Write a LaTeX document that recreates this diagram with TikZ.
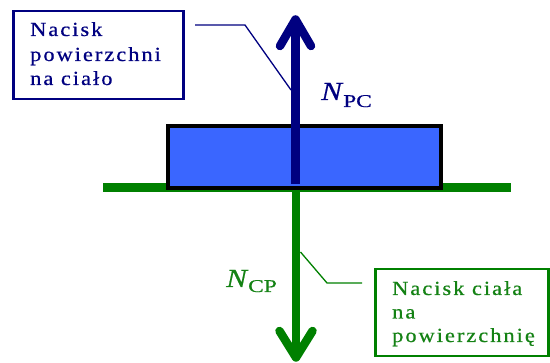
\documentclass[tikz,border=0pt]{standalone}
\usepackage{fontspec}
\setmainfont{Liberation Serif}
\newfontfamily\spacedfont[LetterSpace=10, FakeStretch=1.12, FakeBold=0.6]{Liberation Serif}
\newfontfamily\labelfont[FakeStretch=1.2, FakeBold=0.5]{Liberation Serif}
\newfontfamily\subfont[FakeStretch=1.3, FakeBold=0.5]{Liberation Serif}
\definecolor{navyc}{RGB}{0,0,128}
\definecolor{greenc}{RGB}{0,128,0}
\definecolor{textgreen}{RGB}{20,130,20}
\definecolor{bodyblue}{RGB}{58,102,255}
\tikzset{
  navybox/.style={draw=navyc, line width=2.5pt, fill=white, inner sep=0pt},
  greenbox/.style={draw=greenc, line width=2.5pt, fill=white, inner sep=0pt},
  boxtext/.style={anchor=base west, inner sep=0pt, font=\spacedfont\fontsize{20pt}{24pt}\selectfont},
  forcearrow/.style={line width=8.5pt, line cap=round, line join=round},
  leader/.style={line width=1.3pt},
  bigN/.style={anchor=base west, inner sep=0pt, font=\labelfont\fontsize{26pt}{26pt}\selectfont\itshape},
  subtext/.style={anchor=base west, inner sep=0pt, font=\subfont\fontsize{18pt}{18pt}\selectfont},
}
\begin{document}
\begin{tikzpicture}[x=1pt,y=-1pt]
\useasboundingbox (0,0) rectangle (550,363);
% ground
\coordinate (gL) at (103,187.5);
\coordinate (gR) at (511,187.5);
\draw[greenc, line width=9.5pt] (gL) -- (gR);
% body
\node[draw=black, fill=bodyblue, line width=4pt, inner sep=0pt, minimum width=273pt, minimum height=62pt, anchor=north west] (body) at (166,124) {};
% navy arrow (surface on body)
\coordinate (pcTail) at (295.5,184);
\coordinate (pcTip) at (295.5,19.5);
\draw[navyc, forcearrow, line cap=butt] (pcTail) -- (pcTip);
\draw[navyc, forcearrow] ([xshift=-15.5pt, yshift=-26.5pt]pcTip) -- (pcTip) -- ([xshift=15.5pt, yshift=-26.5pt]pcTip);
% green arrow (body on surface)
\coordinate (cpTail) at (296,191);
\coordinate (cpTip) at (296,357.5);
\draw[greenc, forcearrow, line cap=butt] (cpTail) -- (cpTip);
\draw[greenc, forcearrow] ([xshift=-16.5pt, yshift=26.5pt]cpTip) -- (cpTip) -- ([xshift=16.5pt, yshift=26.5pt]cpTip);
% labels
\node[bigN, navyc] (npcN) at (321,100) {N};
\node[subtext, navyc] (npcS) at (343,107) {PC};
\node[bigN, textgreen] (ncpN) at (226,287) {N};
\node[subtext, textgreen] (ncpS) at (248,292) {CP};
% top-left box
\node[navybox, minimum width=170pt, minimum height=88pt, anchor=north west] (boxPC) at (12,10) {};
\node[boxtext, navyc] (pc1) at (30,36) {Nacisk};
\node[boxtext, navyc] (pc2) at (30,61) {powierzchni};
\node[boxtext, navyc] (pc3) at (30,85) {na ciało};
\coordinate (l1s) at (195,25);
\coordinate (l1k) at (245,25);
\coordinate (l1e) at (291,90);
\draw[navyc, leader] (l1s) -- (l1k) -- (l1e);
% bottom-right box
\node[greenbox, minimum width=173pt, minimum height=87pt, anchor=north west] (boxCP) at (374,268) {};
\node[boxtext, textgreen] (cp1) at (392,295) {Nacisk ciała};
\node[boxtext, textgreen] (cp2) at (392,318.5) {na};
\node[boxtext, textgreen] (cp3) at (392,342) {powierzchnię};
\coordinate (l2s) at (362,283);
\coordinate (l2k) at (327,283);
\coordinate (l2e) at (300.5,252);
\draw[greenc, leader] (l2s) -- (l2k) -- (l2e);
\end{tikzpicture}
\end{document}
